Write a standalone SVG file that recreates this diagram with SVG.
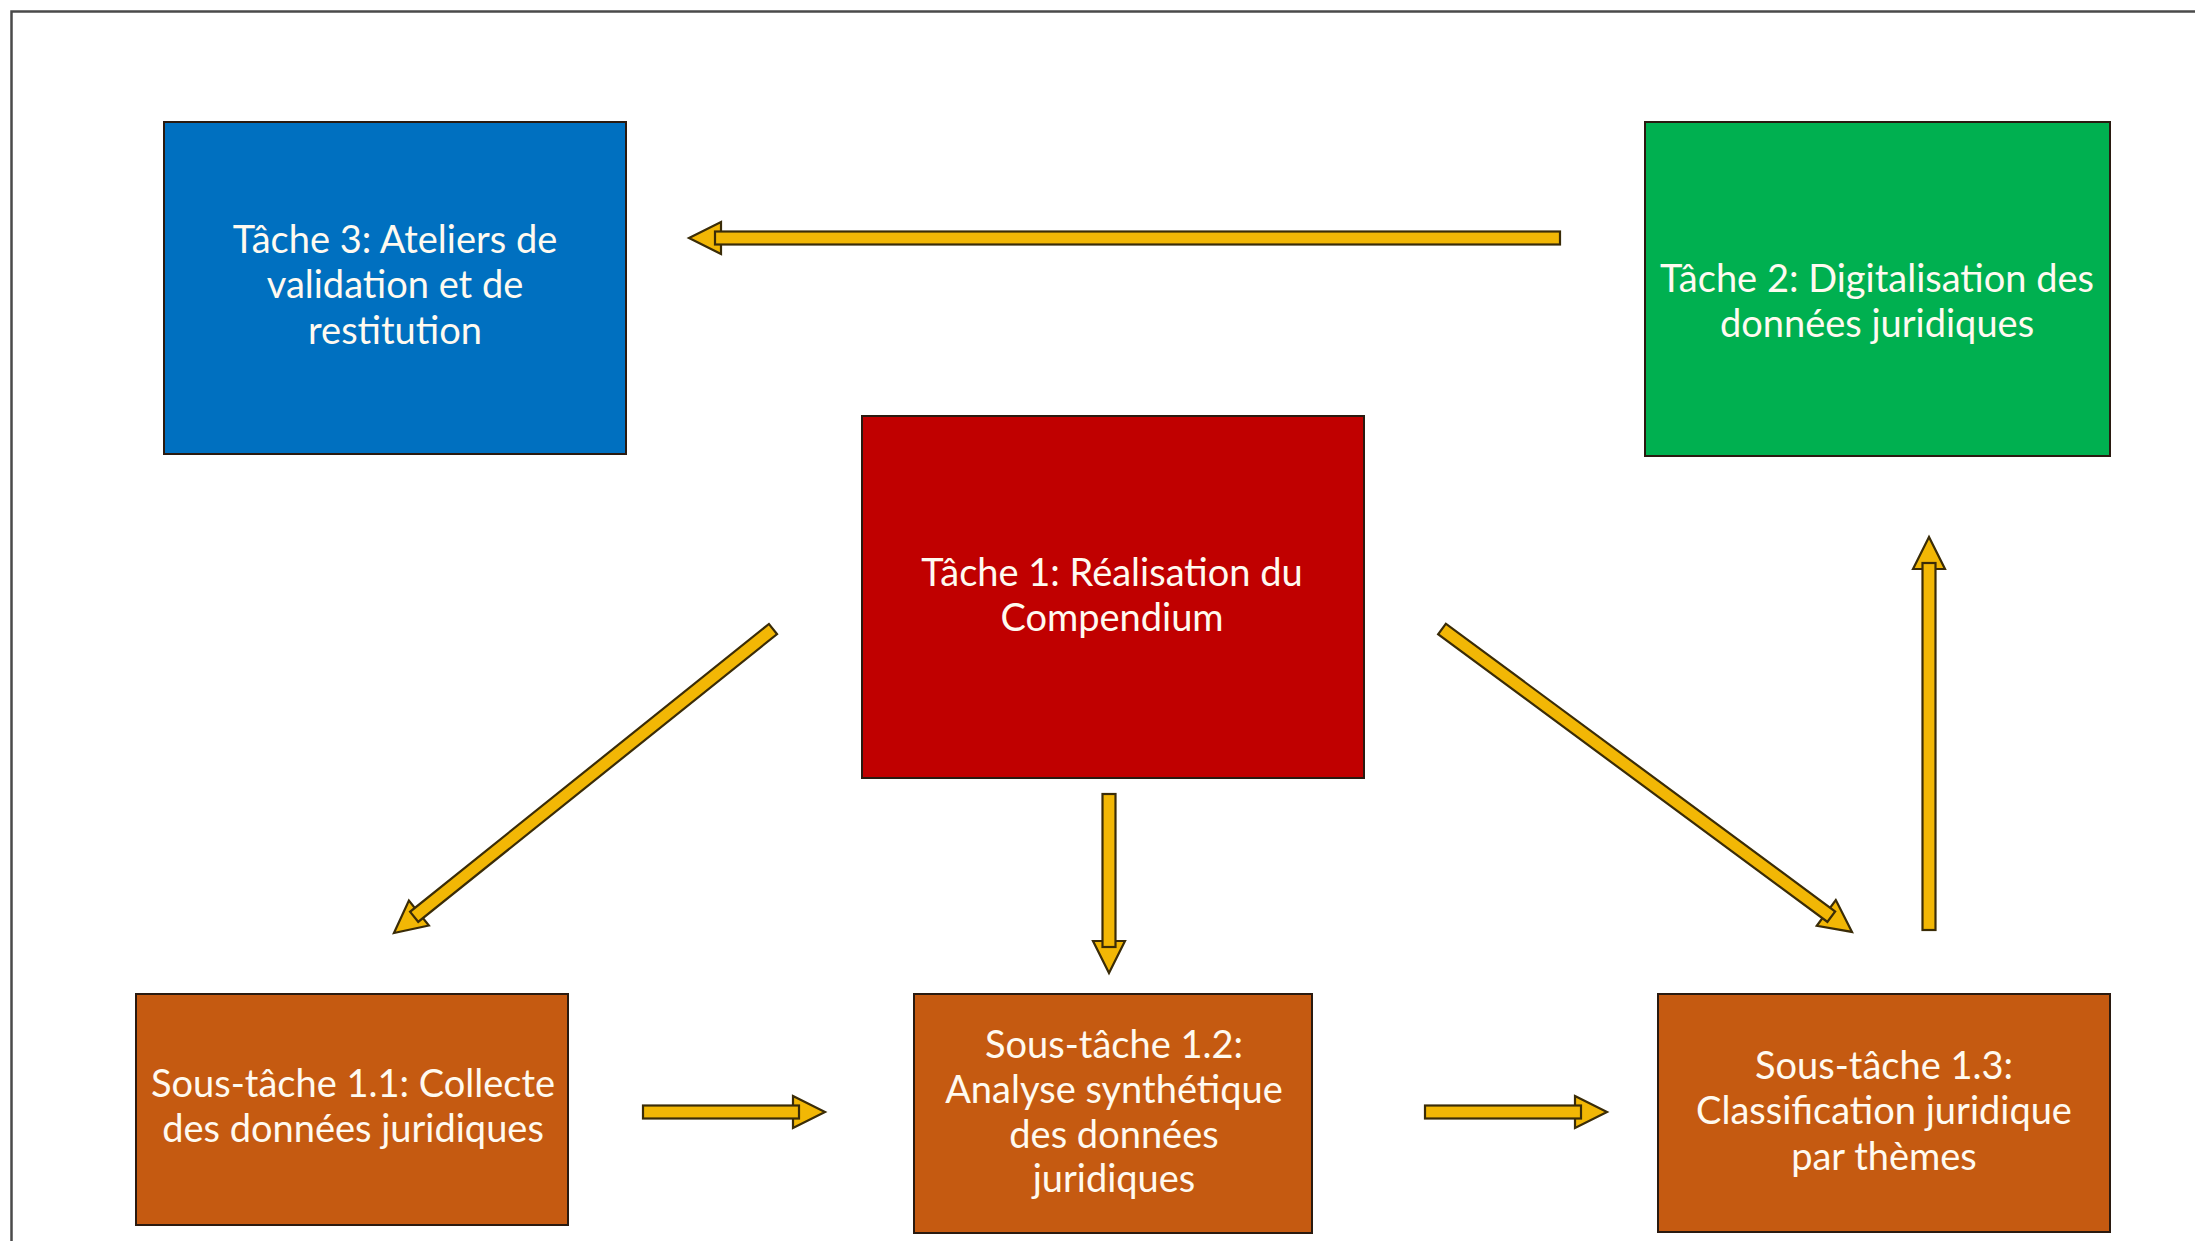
<svg xmlns="http://www.w3.org/2000/svg" width="2195" height="1241" viewBox="0 0 2195 1241">
<style>
.box{stroke:#2a1a10;stroke-width:2}
.t{font-family:Lato,"Liberation Sans",sans-serif;font-size:38px;fill:#fffaf0;text-anchor:middle;dominant-baseline:central}
.ah,.as{fill:#F2B705;stroke:#3a2c08;stroke-width:2.2;stroke-linejoin:miter}
</style>
<rect width="2195" height="1241" fill="#fff"/>
<path d="M11.5 1241 V11.5 H2195" fill="none" stroke="#4a4a4a" stroke-width="2.5"/>

<g id="tache3">
<rect class="box" x="164" y="122" width="462" height="332" fill="#0070C0"/>
<text class="t" x="395" y="238">Tâche 3: Ateliers de</text>
<text class="t" x="395" y="283">validation et de</text>
<text class="t" x="395" y="329">restitution</text>
</g>
<g id="tache2">
<rect class="box" x="1645" y="122" width="465" height="334" fill="#00B050"/>
<text class="t" x="1877" y="277">Tâche 2: Digitalisation des</text>
<text class="t" x="1877" y="322">données juridiques</text>
</g>
<g id="tache1">
<rect class="box" x="862" y="416" width="502" height="362" fill="#C00000"/>
<text class="t" x="1112" y="571">Tâche 1: Réalisation du</text>
<text class="t" x="1112" y="616">Compendium</text>
</g>
<g id="st11">
<rect class="box" x="136" y="994" width="432" height="231" fill="#C55A11"/>
<text class="t" x="353" y="1082">Sous-tâche 1.1: Collecte</text>
<text class="t" x="353" y="1127">des données juridiques</text>
</g>
<g id="st12">
<rect class="box" x="914" y="994" width="398" height="239" fill="#C55A11"/>
<text class="t" x="1114" y="1043">Sous-tâche 1.2:</text>
<text class="t" x="1114" y="1088">Analyse synthétique</text>
<text class="t" x="1114" y="1133">des données</text>
<text class="t" x="1114" y="1177">juridiques</text>
</g>
<g id="st13">
<rect class="box" x="1658" y="994" width="452" height="238" fill="#C55A11"/>
<text class="t" x="1884" y="1064">Sous-tâche 1.3:</text>
<text class="t" x="1884" y="1109">Classification juridique</text>
<text class="t" x="1884" y="1155">par thèmes</text>
</g>

<g id="connectors">
<g transform="translate(1560,238) rotate(180)"><polygon class="ah" points="839,-16 871,0 839,16"/><rect class="as" x="0" y="-6.5" width="845" height="13"/></g>
<g transform="translate(773,629) rotate(141.27)"><polygon class="ah" points="453.9,-16 485.9,0 453.9,16"/><rect class="as" x="0" y="-6.5" width="460" height="13"/></g>
<g transform="translate(1442,629) rotate(36.46)"><polygon class="ah" points="477.8,-16 509.8,0 477.8,16"/><rect class="as" x="0" y="-6.5" width="484" height="13"/></g>
<g transform="translate(1109,794) rotate(90)"><polygon class="ah" points="147,-16 179,0 147,16"/><rect class="as" x="0" y="-6.5" width="153" height="13"/></g>
<g transform="translate(1929,930) rotate(-90)"><polygon class="ah" points="361,-16 393,0 361,16"/><rect class="as" x="0" y="-6.5" width="367" height="13"/></g>
<g transform="translate(643,1112)"><polygon class="ah" points="150,-16 182,0 150,16"/><rect class="as" x="0" y="-6.5" width="156" height="13"/></g>
<g transform="translate(1425,1112)"><polygon class="ah" points="150,-16 182,0 150,16"/><rect class="as" x="0" y="-6.5" width="156" height="13"/></g>
</g>
</svg>
